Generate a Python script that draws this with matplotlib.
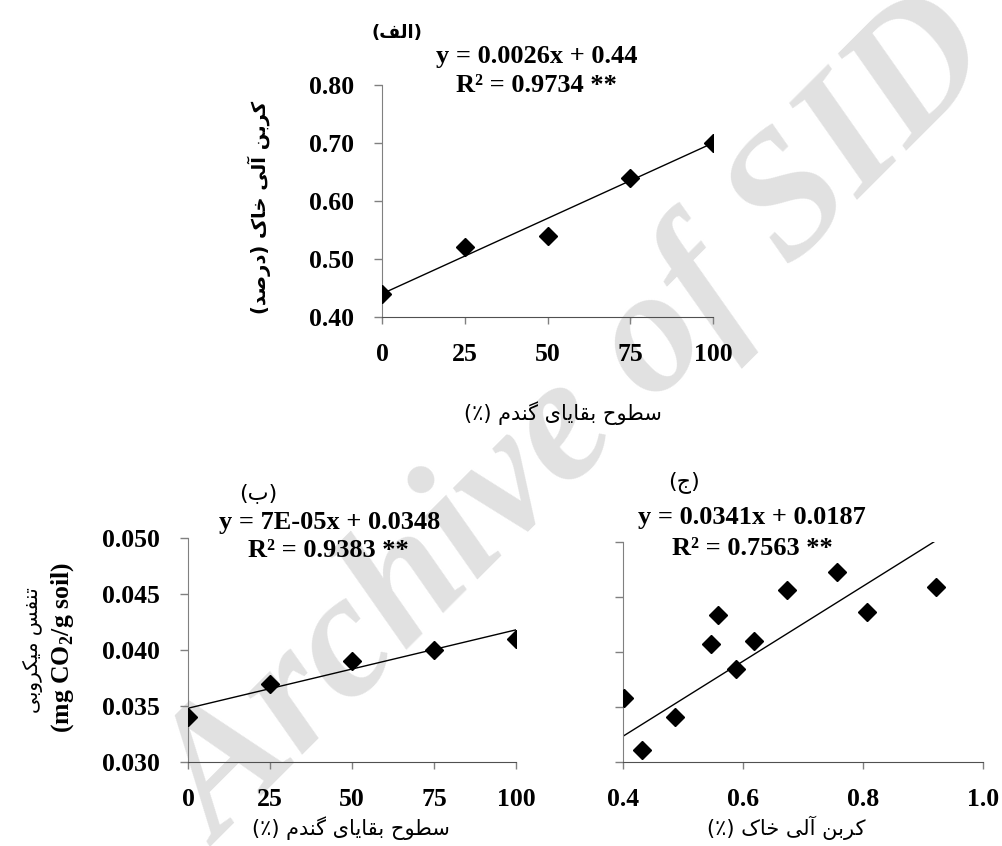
import matplotlib
matplotlib.use("Agg")
import matplotlib.pyplot as plt

# ---- data -------------------------------------------------------------
residue_levels = [0, 25, 50, 75, 100]
organic_carbon = [0.44, 0.52, 0.54, 0.64, 0.70]
respiration = [0.034, 0.037, 0.039, 0.040, 0.041]

oc_scatter = [0.757, 0.922, 0.673, 0.559, 0.806, 0.547, 0.619, 0.588, 0.402, 0.486, 0.431]
resp_scatter = [0.0473, 0.0459, 0.0456, 0.0434, 0.0436, 0.0407, 0.0410, 0.0385, 0.0358, 0.0341, 0.0311]

fit_a = (0.0026, 0.44)       # slope, intercept
fit_b = (7e-05, 0.0348)
fit_c = (0.0341, 0.0187)
fit_c_range = (0.40, 0.92)

# ---- persian shaping (matplotlib has no complex text layout) ----------
FORMS = {
    'ا': ('\uFE8D', '\uFE8E', None, None),
    'آ': ('\uFE81', '\uFE82', None, None),
    'ب': ('\uFE8F', '\uFE90', '\uFE91', '\uFE92'),
    'ت': ('\uFE95', '\uFE96', '\uFE97', '\uFE98'),
    'ج': ('\uFE9D', '\uFE9E', '\uFE9F', '\uFEA0'),
    'ح': ('\uFEA1', '\uFEA2', '\uFEA3', '\uFEA4'),
    'خ': ('\uFEA5', '\uFEA6', '\uFEA7', '\uFEA8'),
    'د': ('\uFEA9', '\uFEAA', None, None),
    'ر': ('\uFEAD', '\uFEAE', None, None),
    'س': ('\uFEB1', '\uFEB2', '\uFEB3', '\uFEB4'),
    'ص': ('\uFEB9', '\uFEBA', '\uFEBB', '\uFEBC'),
    'ط': ('\uFEC1', '\uFEC2', '\uFEC3', '\uFEC4'),
    'ف': ('\uFED1', '\uFED2', '\uFED3', '\uFED4'),
    'ق': ('\uFED5', '\uFED6', '\uFED7', '\uFED8'),
    'ک': ('\uFB8E', '\uFB8F', '\uFB90', '\uFB91'),
    'گ': ('\uFB92', '\uFB93', '\uFB94', '\uFB95'),
    'ل': ('\uFEDD', '\uFEDE', '\uFEDF', '\uFEE0'),
    'م': ('\uFEE1', '\uFEE2', '\uFEE3', '\uFEE4'),
    'ن': ('\uFEE5', '\uFEE6', '\uFEE7', '\uFEE8'),
    'و': ('\uFEED', '\uFEEE', None, None),
    'ی': ('\uFBFC', '\uFBFD', '\uFBFE', '\uFBFF'),
}


def fa(text):
    out = []
    for i, ch in enumerate(text):
        if ch not in FORMS:
            out.append(ch)
            continue
        prev = text[i - 1] if i > 0 else ''
        nxt = text[i + 1] if i + 1 < len(text) else ''
        join_prev = prev in FORMS and FORMS[prev][2] is not None
        join_next = nxt in FORMS and FORMS[ch][2] is not None
        iso, fin, ini, med = FORMS[ch]
        if join_prev and join_next:
            out.append(med)
        elif join_prev:
            out.append(fin)
        elif join_next:
            out.append(ini)
        else:
            out.append(iso)
    s = ''.join(reversed(out))
    return s.replace('(', '\0').replace(')', '(').replace('\0', ')')


plt.rcParams['font.family'] = ['Liberation Serif', 'DejaVu Sans']
plt.rcParams['font.weight'] = 'bold'
plt.rcParams['mathtext.fontset'] = 'custom'
plt.rcParams['mathtext.rm'] = 'Liberation Serif:bold'
plt.rcParams['mathtext.bf'] = 'Liberation Serif:bold'

W, H = 1002, 846
fig = plt.figure(figsize=(W / 100, H / 100), dpi=100)

FS = 18.5
EQ = 19
FA = ['DejaVu Sans']


def ftext(x, y, s, **kw):
    fig.text(x / W, 1 - y / H, s, ha='center', va='center', **kw)


def style_axes(ax):
    ax.patch.set_visible(False)
    ax.spines['top'].set_visible(False)
    ax.spines['right'].set_visible(False)
    ax.spines['left'].set_color('#808080')
    ax.spines['bottom'].set_color('#505050')
    ax.tick_params(axis='y', direction='out', length=6, width=1, color='#808080',
                   pad=14, labelsize=FS)
    ax.tick_params(axis='x', direction='out', length=5, width=1, color='#808080',
                   pad=14, labelsize=FS)
    for lab in ax.get_xticklabels() + ax.get_yticklabels():
        lab.set_fontweight('bold')


def rect(l, t, r, b):
    return [l / W, 1 - b / H, (r - l) / W, (b - t) / H]


# watermark behind everything
fig.text(579 / W, 1 - 425 / H, 'Archive of SID', rotation=45, rotation_mode='anchor',
         ha='center', va='center', fontsize=128, fontstyle='italic', fontweight='bold',
         color='#e1e1e1', family='Liberation Serif', zorder=0)

mk = dict(marker='D', markersize=9, color='black', linestyle='none', zorder=3)

# ---- (a) --------------------------------------------------------------
ax1 = fig.add_axes(rect(382, 85, 713, 317), zorder=1)
ax1.plot(residue_levels, organic_carbon, **mk)
ax1.plot([0, 100], [fit_a[1], fit_a[0] * 100 + fit_a[1]], color='black', lw=1)
ax1.set_xlim(0, 100)
ax1.set_ylim(0.40, 0.80)
ax1.set_xticks(residue_levels)
ax1.set_yticks([0.40, 0.50, 0.60, 0.70, 0.80])
ax1.set_yticklabels(['0.40', '0.50', '0.60', '0.70', '0.80'])
style_axes(ax1)

ftext(397, 33, fa('(الف)'), fontsize=13, family=FA, fontweight='bold')
ftext(537, 57, 'y = 0.0026x + 0.44', fontsize=EQ, fontweight='bold')
ftext(536, 85, 'R² = 0.9734 **', fontsize=EQ, fontweight='bold')
ftext(563, 413, fa('سطوح بقایای گندم (٪)'), fontsize=15, family=FA,
      fontweight='normal')
ftext(259, 207, fa('کربن آلی خاک (درصد)'), fontsize=14, family=FA,
      fontweight='bold', rotation=90)

# ---- (b) --------------------------------------------------------------
ax2 = fig.add_axes(rect(188, 538, 516, 762), zorder=1)
ax2.plot(residue_levels, respiration, **mk)
ax2.plot([0, 100], [fit_b[1], fit_b[0] * 100 + fit_b[1]], color='black', lw=1)
ax2.set_xlim(0, 100)
ax2.set_ylim(0.030, 0.050)
ax2.set_xticks(residue_levels)
ax2.set_yticks([0.030, 0.035, 0.040, 0.045, 0.050])
ax2.set_yticklabels(['0.030', '0.035', '0.040', '0.045', '0.050'])
style_axes(ax2)

ftext(258, 493, fa('(ب)'), fontsize=16, family=FA, fontweight='normal')
ftext(330, 522, 'y = 7E-05x + 0.0348', fontsize=EQ, fontweight='bold')
ftext(328, 550, 'R² = 0.9383 **', fontsize=EQ, fontweight='bold')
ftext(351, 828, fa('سطوح بقایای گندم (٪)'), fontsize=15, family=FA,
      fontweight='normal')
ftext(33, 650, fa('تنفس میکروبی'), fontsize=14.5, family=FA, rotation=90,
      fontweight='normal')
ftext(63, 647, r'(mg CO$_2$/g soil)', fontsize=FS, fontweight='bold', rotation=90)

# ---- (c) --------------------------------------------------------------
ax3 = fig.add_axes(rect(623, 542, 983, 762), zorder=1)
ax3.plot(oc_scatter, resp_scatter, **mk)
ax3.plot(list(fit_c_range), [fit_c[0] * v + fit_c[1] for v in fit_c_range],
         color='black', lw=1)
ax3.set_xlim(0.4, 1.0)
ax3.set_ylim(0.030, 0.050)
ax3.set_xticks([0.4, 0.6, 0.8, 1.0])
ax3.set_xticklabels(['0.4', '0.6', '0.8', '1.0'])
ax3.set_yticks([0.030, 0.035, 0.040, 0.045, 0.050])
ax3.set_yticklabels([])
style_axes(ax3)

ftext(684, 482, fa('(ج)'), fontsize=16, family=FA, fontweight='normal')
ftext(752, 517, 'y = 0.0341x + 0.0187', fontsize=EQ, fontweight='bold')
ftext(752, 548, 'R² = 0.7563 **', fontsize=EQ, fontweight='bold')
ftext(786, 828, fa('کربن آلی خاک (٪)'), fontsize=15, family=FA,
      fontweight='normal')

fig.savefig('out.png', dpi=100)
